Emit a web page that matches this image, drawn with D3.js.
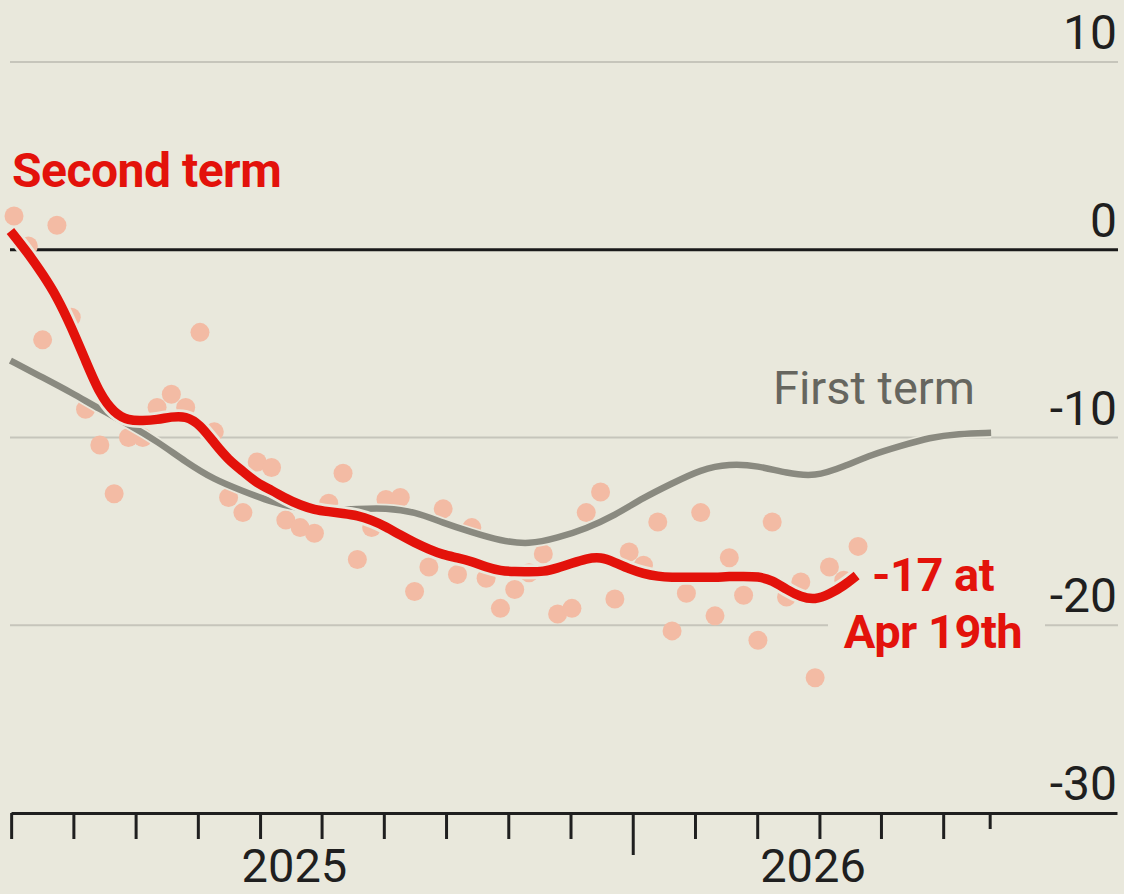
<!DOCTYPE html>
<html>
<head>
<meta charset="utf-8">
<script src="https://cdnjs.cloudflare.com/ajax/libs/d3/7.8.5/d3.min.js"></script>
<style>
  body { margin: 0; background: #e9e8dc; }
  svg { display: block; font-family: Roboto, "Liberation Sans", Arial, sans-serif; }
</style>
</head>
<body>
<div id="chart"></div>
<script>
// weekly poll readings, second term (week 0 = first poll)
var pollWeeks = d3.range(60);
var pollValues = [1.8, 0.2, -4.8, 1.3, -3.6, -8.5, -10.4, -13.0, -10.0, -10.0,
                  -8.4, -7.7, -8.4, -4.4, -9.7, -13.2, -14.0, -11.3, -11.6, -14.4,
                  -14.8, -15.1, -13.5, -11.9, -16.5, -14.8, -13.3, -13.2, -18.2, -16.9,
                  -13.8, -17.3, -14.8, -17.5, -19.1, -18.1, -17.2, -16.2, -19.4, -19.1,
                  -14.0, -12.9, -18.6, -16.1, -16.8, -14.5, -20.3, -18.3, -14.0, -19.5,
                  -16.4, -18.4, -20.8, -14.5, -18.5, -17.7, -22.8, -16.9, -17.6, -15.8];

// smoothed trend, second term
var secondWeeks = [-0.25, 1, 2, 3, 4, 5, 6, 7, 8, 9, 10, 11, 12, 13, 14, 15, 16, 17, 18, 19,
                   20, 21, 22, 23, 24, 25, 26, 27, 28, 29, 30, 31, 32, 33, 34, 35, 36, 37, 38, 39,
                   40, 41, 42, 43, 44, 45, 46, 47, 48, 49, 50, 51, 52, 53, 54, 55, 56, 57, 58, 58.9];
var secondValues = [1.0, -0.2, -1.3, -2.5, -4.1, -5.9, -7.7, -8.7, -9.1, -9.1,
                    -9.05, -8.9, -8.85, -9.3, -10.3, -11.2, -11.8, -12.45, -12.8, -13.25,
                    -13.6, -13.85, -13.95, -14.05, -14.15, -14.4, -14.75, -15.2, -15.6, -15.95,
                    -16.25, -16.4, -16.6, -16.9, -17.1, -17.15, -17.15, -17.15, -16.95, -16.7,
                    -16.45, -16.35, -16.65, -17.0, -17.25, -17.4, -17.45, -17.45, -17.45, -17.45,
                    -17.4, -17.4, -17.4, -17.6, -18.1, -18.5, -18.65, -18.35, -17.9, -17.35];

// smoothed trend, first term (same point in the term)
var firstWeeks = [-0.25, 2, 4, 6, 8, 10, 12, 14, 16, 18, 20, 22, 24, 26, 28, 30, 32, 34,
                  36, 38, 40, 42, 44, 46, 48, 50, 52, 54, 56, 58, 60, 62, 64, 66, 68.3];
var firstValues = [-5.9, -6.8, -7.6, -8.5, -9.3, -10.2, -11.3, -12.25, -12.85, -13.45,
                   -13.8, -13.9, -13.8, -13.75, -13.95, -14.55, -15.05, -15.5, -15.7, -15.35,
                   -14.85, -14.15, -13.2, -12.45, -11.7, -11.4, -11.5, -11.9, -12.1, -11.55,
                   -10.9, -10.45, -10.0, -9.8, -9.75];

var yTicks = [10, 0, -10, -20, -30];
var monthTicks = [-0.2, 4.15, 8.5, 12.85, 17.2, 21.5, 25.85, 30.2, 34.55, 38.9,
                  43.25, 47.6, 51.95, 56.3, 60.6, 64.95];
var yearBreak = 43.25;
var endTick = 68.2;
var yearLabels = ["2025", "2026"];
var yearLabelWeeks = [19.6, 55.85];

var width = 1124, height = 894;
var bg = "#e9e8dc", red = "#e3120b", grey = "#8a8a80";

var svg = d3.select("#chart").append("svg")
    .attr("width", width)
    .attr("height", height);

svg.append("rect").attr("width", width).attr("height", height).attr("fill", bg);

var x = d3.scaleLinear().domain([-0.21, 77.1]).range([11, 1117]);
var y = d3.scaleLinear().domain([-30, 10]).range([813, 62]);

// gridlines
svg.append("g").selectAll("line")
    .data(yTicks.filter(function (d) { return d !== -30; }))
    .enter().append("line")
    .attr("x1", 10).attr("x2", 1118)
    .attr("y1", function (d) { return y(d); })
    .attr("y2", function (d) { return y(d); })
    .attr("stroke", function (d) { return d === 0 ? "#1a1a1a" : "#c6c5bb"; })
    .attr("stroke-width", function (d) { return d === 0 ? 3 : 2; });

// gap in the -20 gridline behind the end label
svg.append("rect")
    .attr("x", 828).attr("y", 610)
    .attr("width", 217).attr("height", 30)
    .attr("fill", bg);

// y labels
svg.append("g").selectAll("text")
    .data(yTicks)
    .enter().append("text")
    .attr("x", 1117)
    .attr("y", function (d) { return y(d) - 13; })
    .attr("text-anchor", "end")
    .attr("font-size", 48)
    .attr("fill", "#1f1f1f")
    .text(function (d) { return d; });

// x axis
var xAxis = svg.append("g")
    .attr("transform", "translate(0," + y(-30) + ")")
    .call(d3.axisBottom(x).tickValues(monthTicks.concat([endTick]))
        .tickSize(26).tickSizeOuter(0).tickFormat(""));
xAxis.select(".domain").attr("stroke", "#1f1f1f").attr("stroke-width", 3);
xAxis.selectAll(".tick line")
    .attr("stroke", "#1f1f1f")
    .attr("stroke-width", 3)
    .attr("y2", function (d) { return d === yearBreak ? 42 : (d === endTick ? 16 : 26); });

svg.append("g").selectAll("text")
    .data(yearLabels)
    .enter().append("text")
    .attr("x", function (d, i) { return x(yearLabelWeeks[i]); })
    .attr("y", 882)
    .attr("text-anchor", "middle")
    .attr("font-size", 47)
    .attr("fill", "#1f1f1f")
    .text(function (d) { return d; });

// poll dots
svg.append("g").selectAll("circle")
    .data(pollWeeks)
    .enter().append("circle")
    .attr("cx", function (d) { return x(d); })
    .attr("cy", function (d, i) { return y(pollValues[i]); })
    .attr("r", 9.5)
    .attr("fill", "#f3bba4");

// trend lines
var line = d3.line()
    .x(function (d) { return x(d[0]); })
    .y(function (d) { return y(d[1]); })
    .curve(d3.curveBasis);

var firstData = firstWeeks.map(function (w, i) { return [w, firstValues[i]]; });
var secondData = secondWeeks.map(function (w, i) { return [w, secondValues[i]]; });

svg.append("path").datum(firstData)
    .attr("d", line).attr("fill", "none")
    .attr("stroke", bg).attr("stroke-width", 10);
svg.append("path").datum(firstData)
    .attr("d", line).attr("fill", "none")
    .attr("stroke", grey).attr("stroke-width", 6.5);

svg.append("path").datum(secondData)
    .attr("d", line).attr("fill", "none")
    .attr("stroke", bg).attr("stroke-width", 15);
svg.append("path").datum(secondData)
    .attr("d", line).attr("fill", "none")
    .attr("stroke", red).attr("stroke-width", 9.5);

// annotations
svg.append("text")
    .attr("x", 12).attr("y", 187)
    .attr("font-size", 48).attr("font-weight", 700)
    .attr("letter-spacing", -0.5)
    .attr("fill", red)
    .text("Second term");

svg.append("text")
    .attr("x", 975).attr("y", 404)
    .attr("text-anchor", "end")
    .attr("font-size", 47)
    .attr("fill", "#66665f")
    .text("First term");

svg.append("g").selectAll("text")
    .data(["-17 at", "Apr 19th"])
    .enter().append("text")
    .attr("x", 933)
    .attr("y", function (d, i) { return 591 + i * 57; })
    .attr("text-anchor", "middle")
    .attr("font-size", 47).attr("font-weight", 700)
    .attr("letter-spacing", -0.5)
    .attr("fill", red)
    .text(function (d) { return d; });
</script>
</body>
</html>
